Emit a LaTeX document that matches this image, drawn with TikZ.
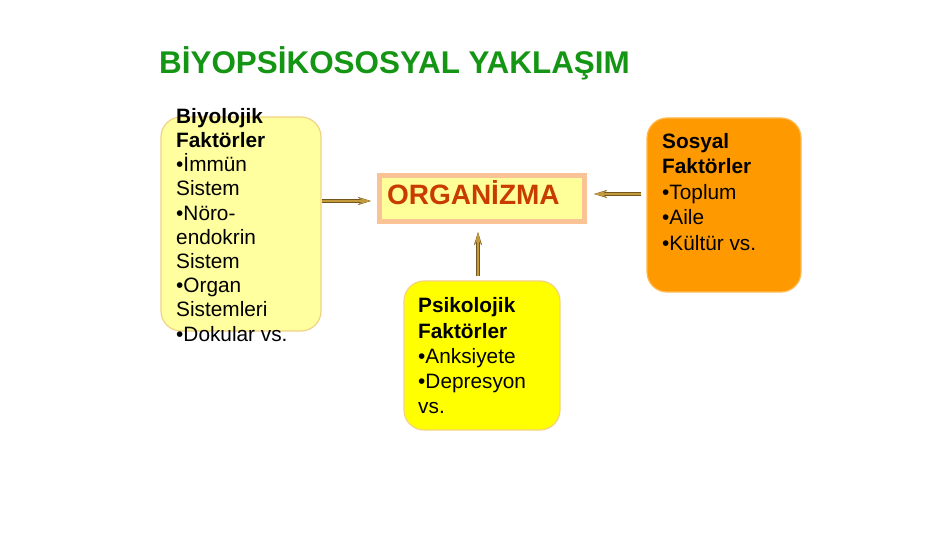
\documentclass[tikz,border=0pt]{standalone}
\usepackage{fontspec}
\setmainfont{Liberation Sans}
\usetikzlibrary{arrows.meta}

\definecolor{titlegreen}{RGB}{20,150,20}
\definecolor{bioyellow}{RGB}{255,255,160}
\definecolor{bioborder}{RGB}{240,210,130}
\definecolor{orgfill}{RGB}{255,255,153}
\definecolor{orgborder}{RGB}{250,195,150}
\definecolor{orgred}{RGB}{200,60,0}
\definecolor{socorange}{RGB}{255,153,0}
\definecolor{socborder}{RGB}{255,185,80}
\definecolor{psyyellow}{RGB}{255,255,0}
\definecolor{psyborder}{RGB}{245,210,130}
\definecolor{arrowgold}{RGB}{195,155,60}
\definecolor{arrowdark}{RGB}{115,85,30}

\begin{document}
\begin{tikzpicture}[x=1pt, y=-1pt,
                    factor/.style={draw, rounded corners=20pt, line width=1.2pt},
                    list/.style={align=left, anchor=north west, inner sep=0pt, font=\fontsize{20.8}{#1}\selectfont},
                    flow/.style={-{Stealth[length=12pt,width=6pt]}, line width=2.8pt, draw=arrowgold,
                                 preaction={draw=arrowdark, line width=4.4pt, -{Stealth[length=13pt,width=8pt]}}}]

\fill[white] (0,0) rectangle (950,534);
\useasboundingbox (0,0) rectangle (950,534);

\node[anchor=base west, inner sep=0pt, text=titlegreen,
      font=\bfseries\fontsize{31.4}{36}\selectfont] (title) at (159,74) {BİYOPSİKOSOSYAL YAKLAŞIM};

% boxes
\node[factor, fill=bioyellow, draw=bioborder, minimum width=160pt, minimum height=214pt] (bio) at (241,224) {};
\node[factor, fill=socorange, draw=socborder, minimum width=154pt, minimum height=174pt] (soc) at (724,205) {};
\node[factor, fill=psyyellow, draw=psyborder, minimum width=156pt, minimum height=149pt] (psy) at (482,355.5) {};
\node[draw=orgborder, fill=orgfill, line width=5pt, minimum width=205pt, minimum height=46pt,
      text width=190pt, inner xsep=7.5pt, align=left, text height=16pt, text depth=3pt,
      font=\bfseries\fontsize{28}{32}\selectfont, text=orgred] (org) at (482,198.5) {ORGANİZMA};

% texts
\node[list=24.2] (biotext) at (176,108) {\textbf{Biyolojik}\\\textbf{Faktörler}\\•İmmün\\Sistem\\•Nöro-\\endokrin\\Sistem\\•Organ\\Sistemleri\\•Dokular vs.};
\node[list=25.5] (soctext) at (662,133) {\textbf{Sosyal}\\\textbf{Faktörler}\\•Toplum\\•Aile\\•Kültür vs.};
\node[list=25.3] (psytext) at (418,297.5) {\textbf{Psikolojik}\\\textbf{Faktörler}\\•Anksiyete\\•Depresyon\\vs.};

% arrows
\draw[flow, shorten >=6pt] ([yshift=-2.5pt]org.west -| bio.east) -- ([yshift=-2.5pt]org.west);
\draw[flow, shorten <=5pt, shorten >=7pt] ([yshift=4.5pt]org.east -| soc.west) -- ([yshift=4.5pt]org.east);
\draw[flow, shorten <=4pt, shorten >=8pt] ([xshift=-4pt]psy.north) -- ([xshift=-4pt]psy.north |- org.south);

\end{tikzpicture}
\end{document}
